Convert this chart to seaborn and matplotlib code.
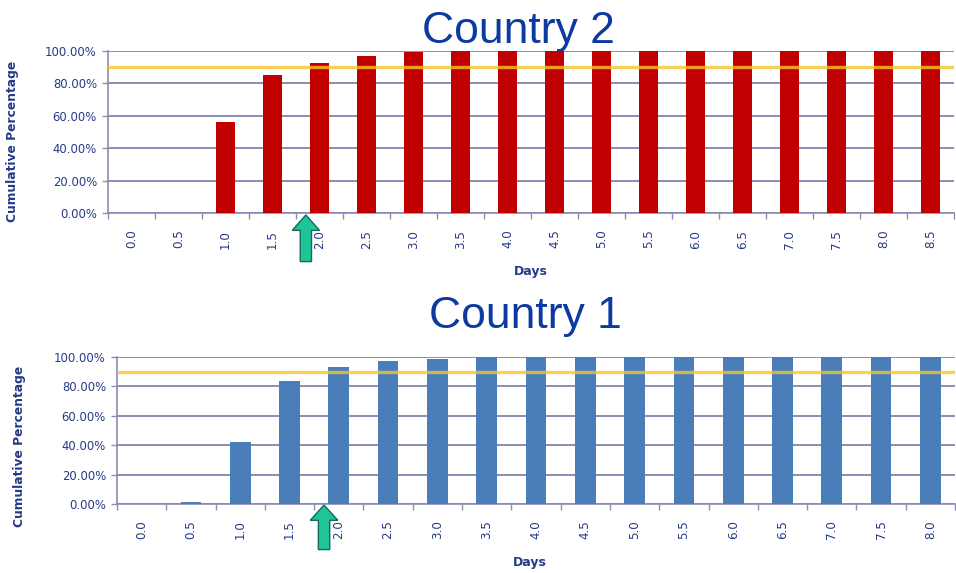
import matplotlib
matplotlib.use("Agg")
import matplotlib.pyplot as plt
from matplotlib.patches import FancyArrow
from matplotlib.ticker import FuncFormatter, FixedLocator
import seaborn as sns

# Cumulative share of cases closed by elapsed days
days_c2 = ["0.0", "0.5", "1.0", "1.5", "2.0", "2.5", "3.0", "3.5", "4.0",
           "4.5", "5.0", "5.5", "6.0", "6.5", "7.0", "7.5", "8.0", "8.5"]
cum_c2 = [0, 0, 56, 85, 92.5, 97, 99.5, 100, 100,
          100, 100, 100, 100, 100, 100, 100, 100, 100]

days_c1 = ["0.0", "0.5", "1.0", "1.5", "2.0", "2.5", "3.0", "3.5", "4.0",
           "4.5", "5.0", "5.5", "6.0", "6.5", "7.0", "7.5", "8.0"]
cum_c1 = [0, 1.5, 42, 84, 93, 97, 98.5, 100, 100,
          100, 100, 100, 100, 100, 100, 100, 100]

target_pct = 90
y_ticks = [0, 20, 40, 60, 80, 100]

sns.set_theme(style="white")
plt.rcParams["font.family"] = ["DejaVu Sans"]

LABEL_BLUE = "#253a86"
GRID = "#8a8cb2"
TITLE_BLUE = "#0b3aa0"

fig = plt.figure(figsize=(9.56, 5.73), dpi=100)
fig.patch.set_facecolor("white")


def draw_panel(ax, days, cum, color, ylab_xy, xlab_xy, xpad, arrow):
    sns.barplot(x=days, y=cum, order=days, color=color, saturation=1,
                width=0.42, linewidth=0, ax=ax, zorder=3)
    ax.set_xlim(-0.5, len(days) - 0.5)
    ax.set_ylim(0, 100)
    ax.yaxis.set_major_locator(FixedLocator(y_ticks))
    ax.yaxis.set_major_formatter(FuncFormatter(lambda v, p: f"{v:.2f}%"))
    ax.grid(axis="y", color=GRID, lw=1.4, zorder=0)
    ax.grid(axis="x", visible=False)
    ax.set_axisbelow(True)
    ax.axhline(target_pct, color="#f8c32a", lw=2.4, alpha=0.8, zorder=4)

    for side in ("top", "right"):
        ax.spines[side].set_visible(False)
    for side in ("left", "bottom"):
        ax.spines[side].set_color(GRID)
        ax.spines[side].set_linewidth(1.2)
        ax.spines[side].set_zorder(1)

    ax.set_xticks(range(len(days)))
    ax.set_xticklabels(days, rotation=90)
    ax.set_xticks([i - 0.5 for i in range(len(days) + 1)], minor=True)
    ax.tick_params(axis="x", which="major", length=0, pad=xpad,
                   labelsize=8.6, labelcolor=LABEL_BLUE)
    ax.tick_params(axis="x", which="minor", length=4, width=1,
                   color=GRID, bottom=True)
    ax.tick_params(axis="y", length=4, width=1, color=GRID, left=True,
                   pad=4, labelsize=8.4, labelcolor=LABEL_BLUE)

    ax.set_ylabel("Cumulative Percentage", fontsize=8.8, fontweight="bold",
                  color=LABEL_BLUE)
    ax.yaxis.set_label_coords(*ylab_xy)
    ax.set_xlabel("Days", fontsize=9, fontweight="bold", color=LABEL_BLUE)
    ax.xaxis.set_label_coords(*xlab_xy)

    ax_x, y0, y1, w, hw, hl = arrow
    ax.add_patch(FancyArrow(ax_x, y0, 0, y1 - y0, width=w, head_width=hw,
                            head_length=hl, length_includes_head=True,
                            facecolor="#1fc597", edgecolor="#17695b",
                            lw=1.0, clip_on=False, zorder=6))


# Country 2 panel
ax_top = fig.add_axes([108 / 956, 1 - 213 / 573, 846 / 956, 162 / 573])
draw_panel(ax_top, days_c2, cum_c2, "#c00000",
           ylab_xy=(-0.105, 0.444), xlab_xy=(0.5, -0.32), xpad=12,
           arrow=(days_c2.index("2.0") - 0.29, -30, -1.2, 0.24, 0.58, 9.5))

# Country 1 panel
ax_bot = fig.add_axes([117 / 956, 1 - 504 / 573, 838 / 956, 147 / 573])
draw_panel(ax_bot, days_c1, cum_c1, "#4a7ebb",
           ylab_xy=(-0.109, 0.395), xlab_xy=(0.493, -0.355), xpad=11.5,
           arrow=(days_c1.index("2.0") - 0.30, -31, -0.7, 0.23, 0.56, 10.4))

fig.text(518 / 956, 1 - 43 / 573, "Country 2", ha="center", va="baseline",
         fontsize=32, color=TITLE_BLUE, family=["Liberation Sans"])
fig.text(525 / 956, 1 - 328 / 573, "Country 1", ha="center", va="baseline",
         fontsize=32, color=TITLE_BLUE, family=["Liberation Sans"])

fig.savefig("out.png", dpi=100, facecolor="white")
